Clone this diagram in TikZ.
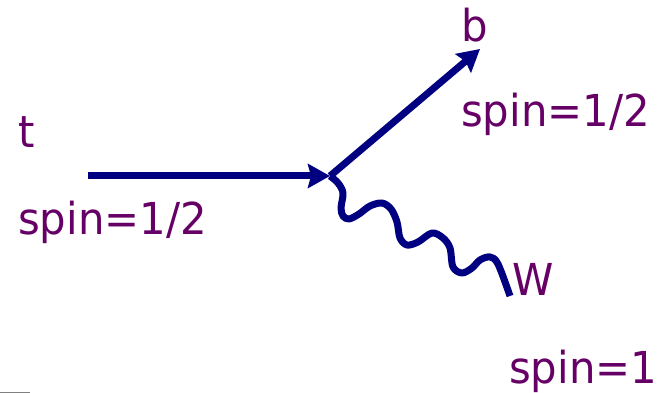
\documentclass[tikz,border=0pt]{standalone}
\usepackage{fontspec}
\setmainfont{DejaVu Sans}[FakeStretch=0.95]
\usetikzlibrary{arrows.meta}
\definecolor{lbl}{HTML}{660066}
\definecolor{ln}{HTML}{000080}
\begin{document}
\begin{tikzpicture}[x=1pt,y=-1pt,
  lab/.style={anchor=base west,inner sep=0pt,text=lbl,font=\fontsize{44}{50}\selectfont},
  fermion/.style={draw=ln,line width=7pt,-{Stealth[length=22pt,width=24pt,inset=3pt]}},
  boson/.style={draw=ln,line width=7pt,line join=round}]
\useasboundingbox (0,0) rectangle (670,393);
\node[lab] (t) at (18,148) {t};
\node[lab] (tspin) at (18,235) {spin=1/2};
\node[lab] (b) at (461,42) {b};
\node[lab] (bspin) at (461,127) {spin=1/2};
\node[lab] (W) at (512,295) {W};
\node[lab] (Wspin) at (509,383) {spin=1};
\coordinate (tin) at (88,176);
\coordinate (v) at (330,176);
\coordinate (bout) at (480,49);
\coordinate (wout) at (510,296);
\draw[fermion] (tin) -- (v);
\draw[fermion] (v) -- (bout);
\draw[boson] plot[smooth,tension=0.55] coordinates {(v) (338,183) (343,193) (341,208) (343,216) (349,219) (359,214) (370,206) (382,203) (391,209) (397,222) (400,238) (407,245) (418,242) (432,233) (443,238) (450,248) (453,267) (462,273) (472,268) (480,260) (490,257) (498,264) (wout)};
\coordinate (g1) at (0,392);
\coordinate (g2) at (30,392);
\draw[gray,line width=1pt] (g1) -- (g2);
\end{tikzpicture}
\end{document}
